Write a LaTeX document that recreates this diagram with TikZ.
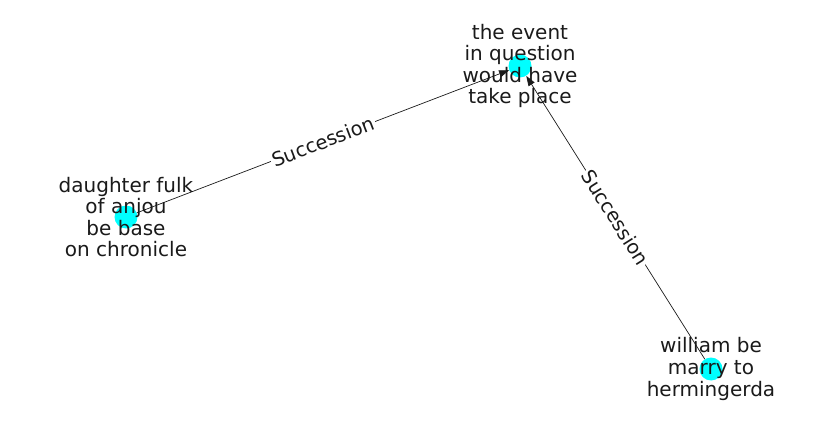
\documentclass[tikz,border=0pt]{standalone}
\usepackage{fontspec}
\setmainfont{DejaVu Sans}
\usetikzlibrary{arrows.meta}
\definecolor{nodecyan}{HTML}{00FFFF}
\definecolor{textgray}{HTML}{1A1A1A}

\begin{document}
\begin{tikzpicture}[x=1pt, y=1pt,
	dot/.style={circle, fill=nodecyan, minimum size=23pt, inner sep=0pt},
	lbl/.style={align=center, text=textgray, font=\fontsize{20}{21.6}\selectfont},
	rel/.style={-{Triangle[length=10pt, width=7pt]}, line width=0.7pt, color=textgray},
	rellbl/.style={fill=white, inner sep=1.5pt, sloped, text=textgray, font=\fontsize{19.5}{24}\selectfont}]
	  \useasboundingbox (0,0) rectangle (837,434);
	  \node[dot] (event) at (520,368) {};
	  \node[dot] (daughter) at (126,217) {};
	  \node[dot] (william) at (711,65) {};
	  \draw[rel] (daughter) -- (event)
		node[midway, rellbl] {Succession};
	  \draw[rel] (william) -- (event)
		node[midway, rellbl] {Succession};
	  \node[lbl] (event-txt) at (event) {the event\\in question\\would have\\take place};
	  \node[lbl] (daughter-txt) at (daughter) {daughter fulk\\of anjou\\be base\\on chronicle};
	  \node[lbl] (william-txt) at (william) {william be\\marry to\\hermingerda};
	\end{tikzpicture}
\end{document}
